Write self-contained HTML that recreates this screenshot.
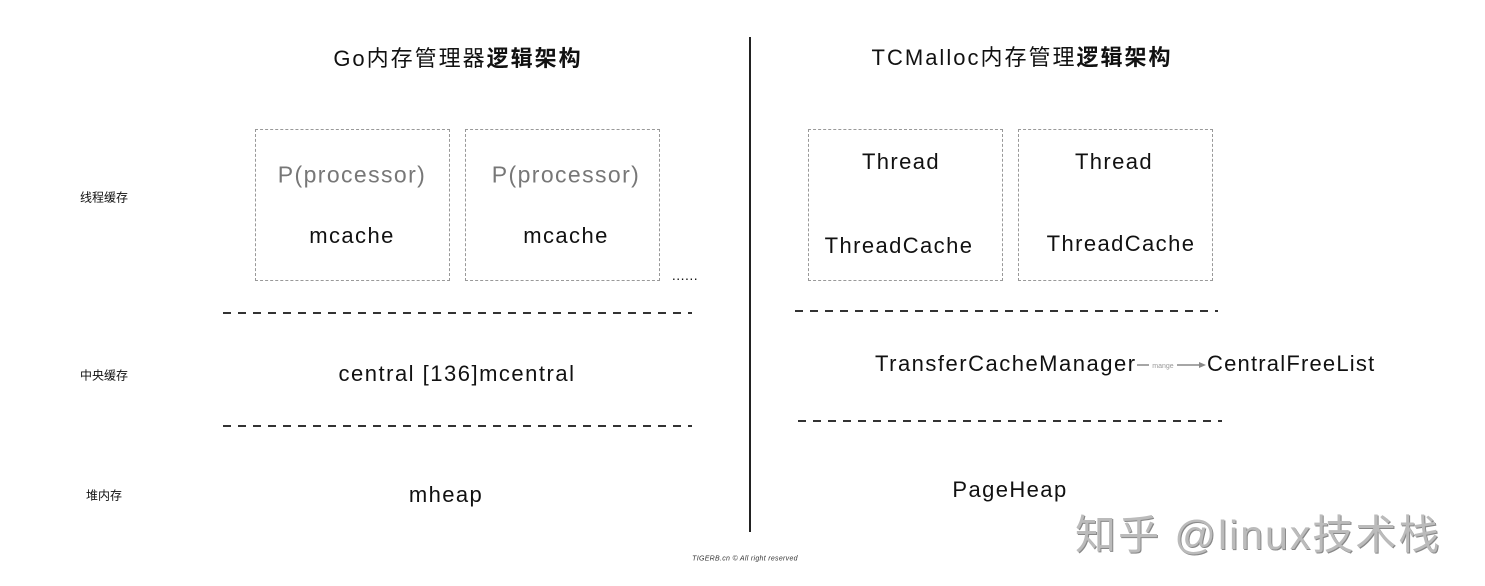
<!DOCTYPE html>
<html><head><meta charset="utf-8"><style>
body{margin:0;width:1485px;height:586px;background:#fff;position:relative;overflow:hidden;font-family:"Liberation Sans","Noto Sans CJK SC",sans-serif;color:#111}
.a{position:absolute;white-space:nowrap;letter-spacing:1.4px}
.c{transform:translate(-50%,-50%)}
.box{position:absolute;border:1.5px dashed #999;box-sizing:border-box}
</style></head><body>
<div class="a c" style="left:458px;top:57px;font-size:22px;letter-spacing:2px">Go内存管理器<b>逻辑架构</b></div>
<div class="a c" style="left:1022px;top:56px;font-size:22px;letter-spacing:2px">TCMalloc内存管理<b>逻辑架构</b></div>
<div style="position:absolute;left:749px;top:37px;width:2px;height:495px;background:#222"></div>

<div class="box" style="left:255px;top:129px;width:195px;height:152px"></div>
<div class="box" style="left:465px;top:129px;width:195px;height:152px"></div>
<div class="box" style="left:808px;top:129px;width:195px;height:152px"></div>
<div class="box" style="left:1018px;top:129px;width:195px;height:152px"></div>

<div class="a c" style="left:352px;top:175px;font-size:23px;color:#777">P(processor)</div>
<div class="a c" style="left:352px;top:236px;font-size:22px">mcache</div>
<div class="a c" style="left:566px;top:175px;font-size:23px;color:#777">P(processor)</div>
<div class="a c" style="left:566px;top:236px;font-size:22px">mcache</div>
<div class="a c" style="left:685px;top:275px;font-size:14px;letter-spacing:0.5px">......</div>

<div class="a c" style="left:901px;top:162px;font-size:22px">Thread</div>
<div class="a c" style="left:899px;top:246px;font-size:22px">ThreadCache</div>
<div class="a c" style="left:1114px;top:162px;font-size:22px">Thread</div>
<div class="a c" style="left:1121px;top:244px;font-size:22px">ThreadCache</div>

<svg style="position:absolute;left:0;top:0" width="1485" height="586">
<g stroke="#333" stroke-width="2" stroke-dasharray="8,7">
<line x1="223" y1="313" x2="692" y2="313"/>
<line x1="223" y1="426" x2="692" y2="426"/>
<line x1="795" y1="311" x2="1218" y2="311"/>
<line x1="798" y1="421" x2="1222" y2="421"/>
</g></svg>

<div class="a c" style="left:104px;top:197px;font-size:12px;letter-spacing:0">线程缓存</div>
<div class="a c" style="left:104px;top:375px;font-size:12px;letter-spacing:0">中央缓存</div>
<div class="a c" style="left:104px;top:495px;font-size:12px;letter-spacing:0">堆内存</div>

<div class="a c" style="left:457px;top:374px;font-size:22px;letter-spacing:1.5px">central [136]mcentral</div>
<div class="a c" style="left:446px;top:495px;font-size:22px">mheap</div>

<div class="a" style="left:875px;top:351px;font-size:22px;letter-spacing:1.5px">TransferCacheManager</div>
<svg style="position:absolute;left:1136px;top:358px" width="72" height="14">
<line x1="1" y1="7" x2="66" y2="7" stroke="#888" stroke-width="1.5"/>
<polygon points="70,7 63,4 63,10" fill="#888"/>
<rect x="13" y="2" width="28" height="10" fill="#fff"/>
<text x="27" y="10" font-size="7" fill="#999" text-anchor="middle" font-family="Liberation Sans">mange</text>
</svg>
<div class="a" style="left:1207px;top:351px;font-size:22px;letter-spacing:1.2px">CentralFreeList</div>
<div class="a c" style="left:1010px;top:490px;font-size:22px">PageHeap</div>

<div class="a" style="left:1075px;top:501px;font-size:41px;letter-spacing:2px;color:#bbb;text-shadow:1px 1px 0 #888">知乎 @linux技术栈</div>
<div class="a c" style="left:745px;top:559px;font-size:7px;font-style:italic;color:#333;letter-spacing:0.3px">TIGERB.cn © All right reserved</div>
</body></html>
